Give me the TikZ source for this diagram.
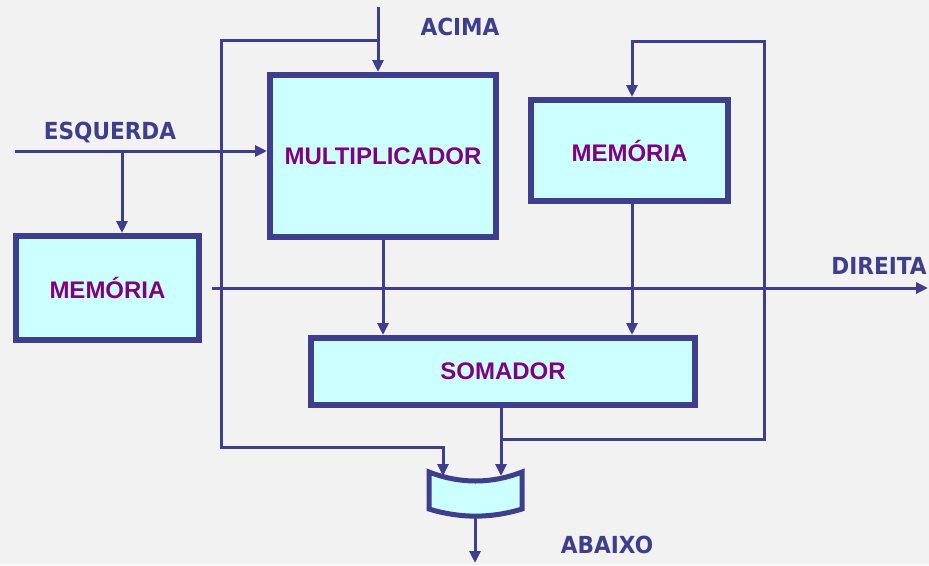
\documentclass[tikz,border=0pt]{standalone}
\usepackage{xcolor}
\usepackage{fontspec}
\usepackage{tikz}
\usetikzlibrary{arrows.meta}

\newfontfamily\boxfont{Liberation Sans}
\newfontfamily\labelfont{DejaVu Sans}[FakeStretch=0.92]

\definecolor{linecol}{RGB}{62,62,140}
\definecolor{boxfill}{RGB}{204,255,255}
\definecolor{boxtext}{RGB}{128,0,128}
\definecolor{bgcol}{RGB}{242,242,242}

\tikzset{
  block/.style={draw=linecol, line width=6pt, fill=boxfill, text=boxtext,
    font=\boxfont\bfseries\fontsize{24}{28}\selectfont, inner sep=0pt},
  wire/.style={draw=linecol, line width=3pt},
  port/.style={text=linecol, font=\labelfont\bfseries\fontsize{23.5}{26}\selectfont,
    inner sep=0pt, anchor=base},
  >={Triangle[length=12pt,width=11pt]}
}

\begin{document}
\begin{tikzpicture}[x=1pt,y=-1pt]

\fill[bgcol] (0,0) rectangle (929,565);
\useasboundingbox (0,0) rectangle (929,565);

% blocos
\node[block, minimum width=226pt, minimum height=162pt] (mult) at (383,156) {MULTIPLICADOR};
\node[block, minimum width=183pt, minimum height=104pt] (memL) at (107.5,288) {MEMÓRIA};
\node[block, minimum width=197pt, minimum height=101pt] (memR) at (629.5,150.5) {MEMÓRIA};
\node[block, minimum width=384pt, minimum height=67pt] (som) at (503,371.5) {SOMADOR};

% multiplexador
\draw[draw=linecol, line width=5pt, fill=boxfill, line join=miter]
  (429,472) .. controls (460,484) and (491,484) .. (522,472)
  -- (522,509) .. controls (491,518.5) and (460,518.5) .. (429,509) -- cycle;
\coordinate (muxL) at (443,476);
\coordinate (muxR) at (501,476);
\coordinate (muxout) at (475,516);

% entradas e saidas
\coordinate (acima) at (378,7);
\coordinate (jA) at (378,40);
\coordinate (esq) at (15,151);
\coordinate (jE) at (122,151);
\coordinate (dir) at (928,288);
\coordinate (jS) at (501,439);
\coordinate (jR) at (632,41);
\coordinate (abaixo) at (475,563);

\node[port] (lacima) at (460,35) {ACIMA};
\node[port] (lesq) at (110,139) {ESQUERDA};
\node[port] (ldir) at (879,274) {DIREITA};
\node[port] (labaixo) at (607,553) {ABAIXO};

\draw[wire,->] (acima) -- (acima |- mult.north);
\draw[wire,->] (jA) -- (221,40) -- (221,447) -- (443,447) -- (muxL);
\draw[wire,->] (esq) -- (esq -| mult.west);
\draw[wire,->] (jE) -- (jE |- memL.north);
\draw[wire,->,shorten <=10pt] (memL.east) -- (dir);
\draw[wire,->] (mult.south) -- (mult.south |- som.north);
\draw[wire,->] (jR |- memR.south) -- (jR |- som.north);
\draw[wire,->] (jS |- som.south) -- (muxR);
\draw[wire,->] (jS) -- (764,439) -- (764,41) -- (jR) -- (jR |- memR.north);
\draw[wire,->] (muxout) -- (abaixo);

\end{tikzpicture}
\end{document}
